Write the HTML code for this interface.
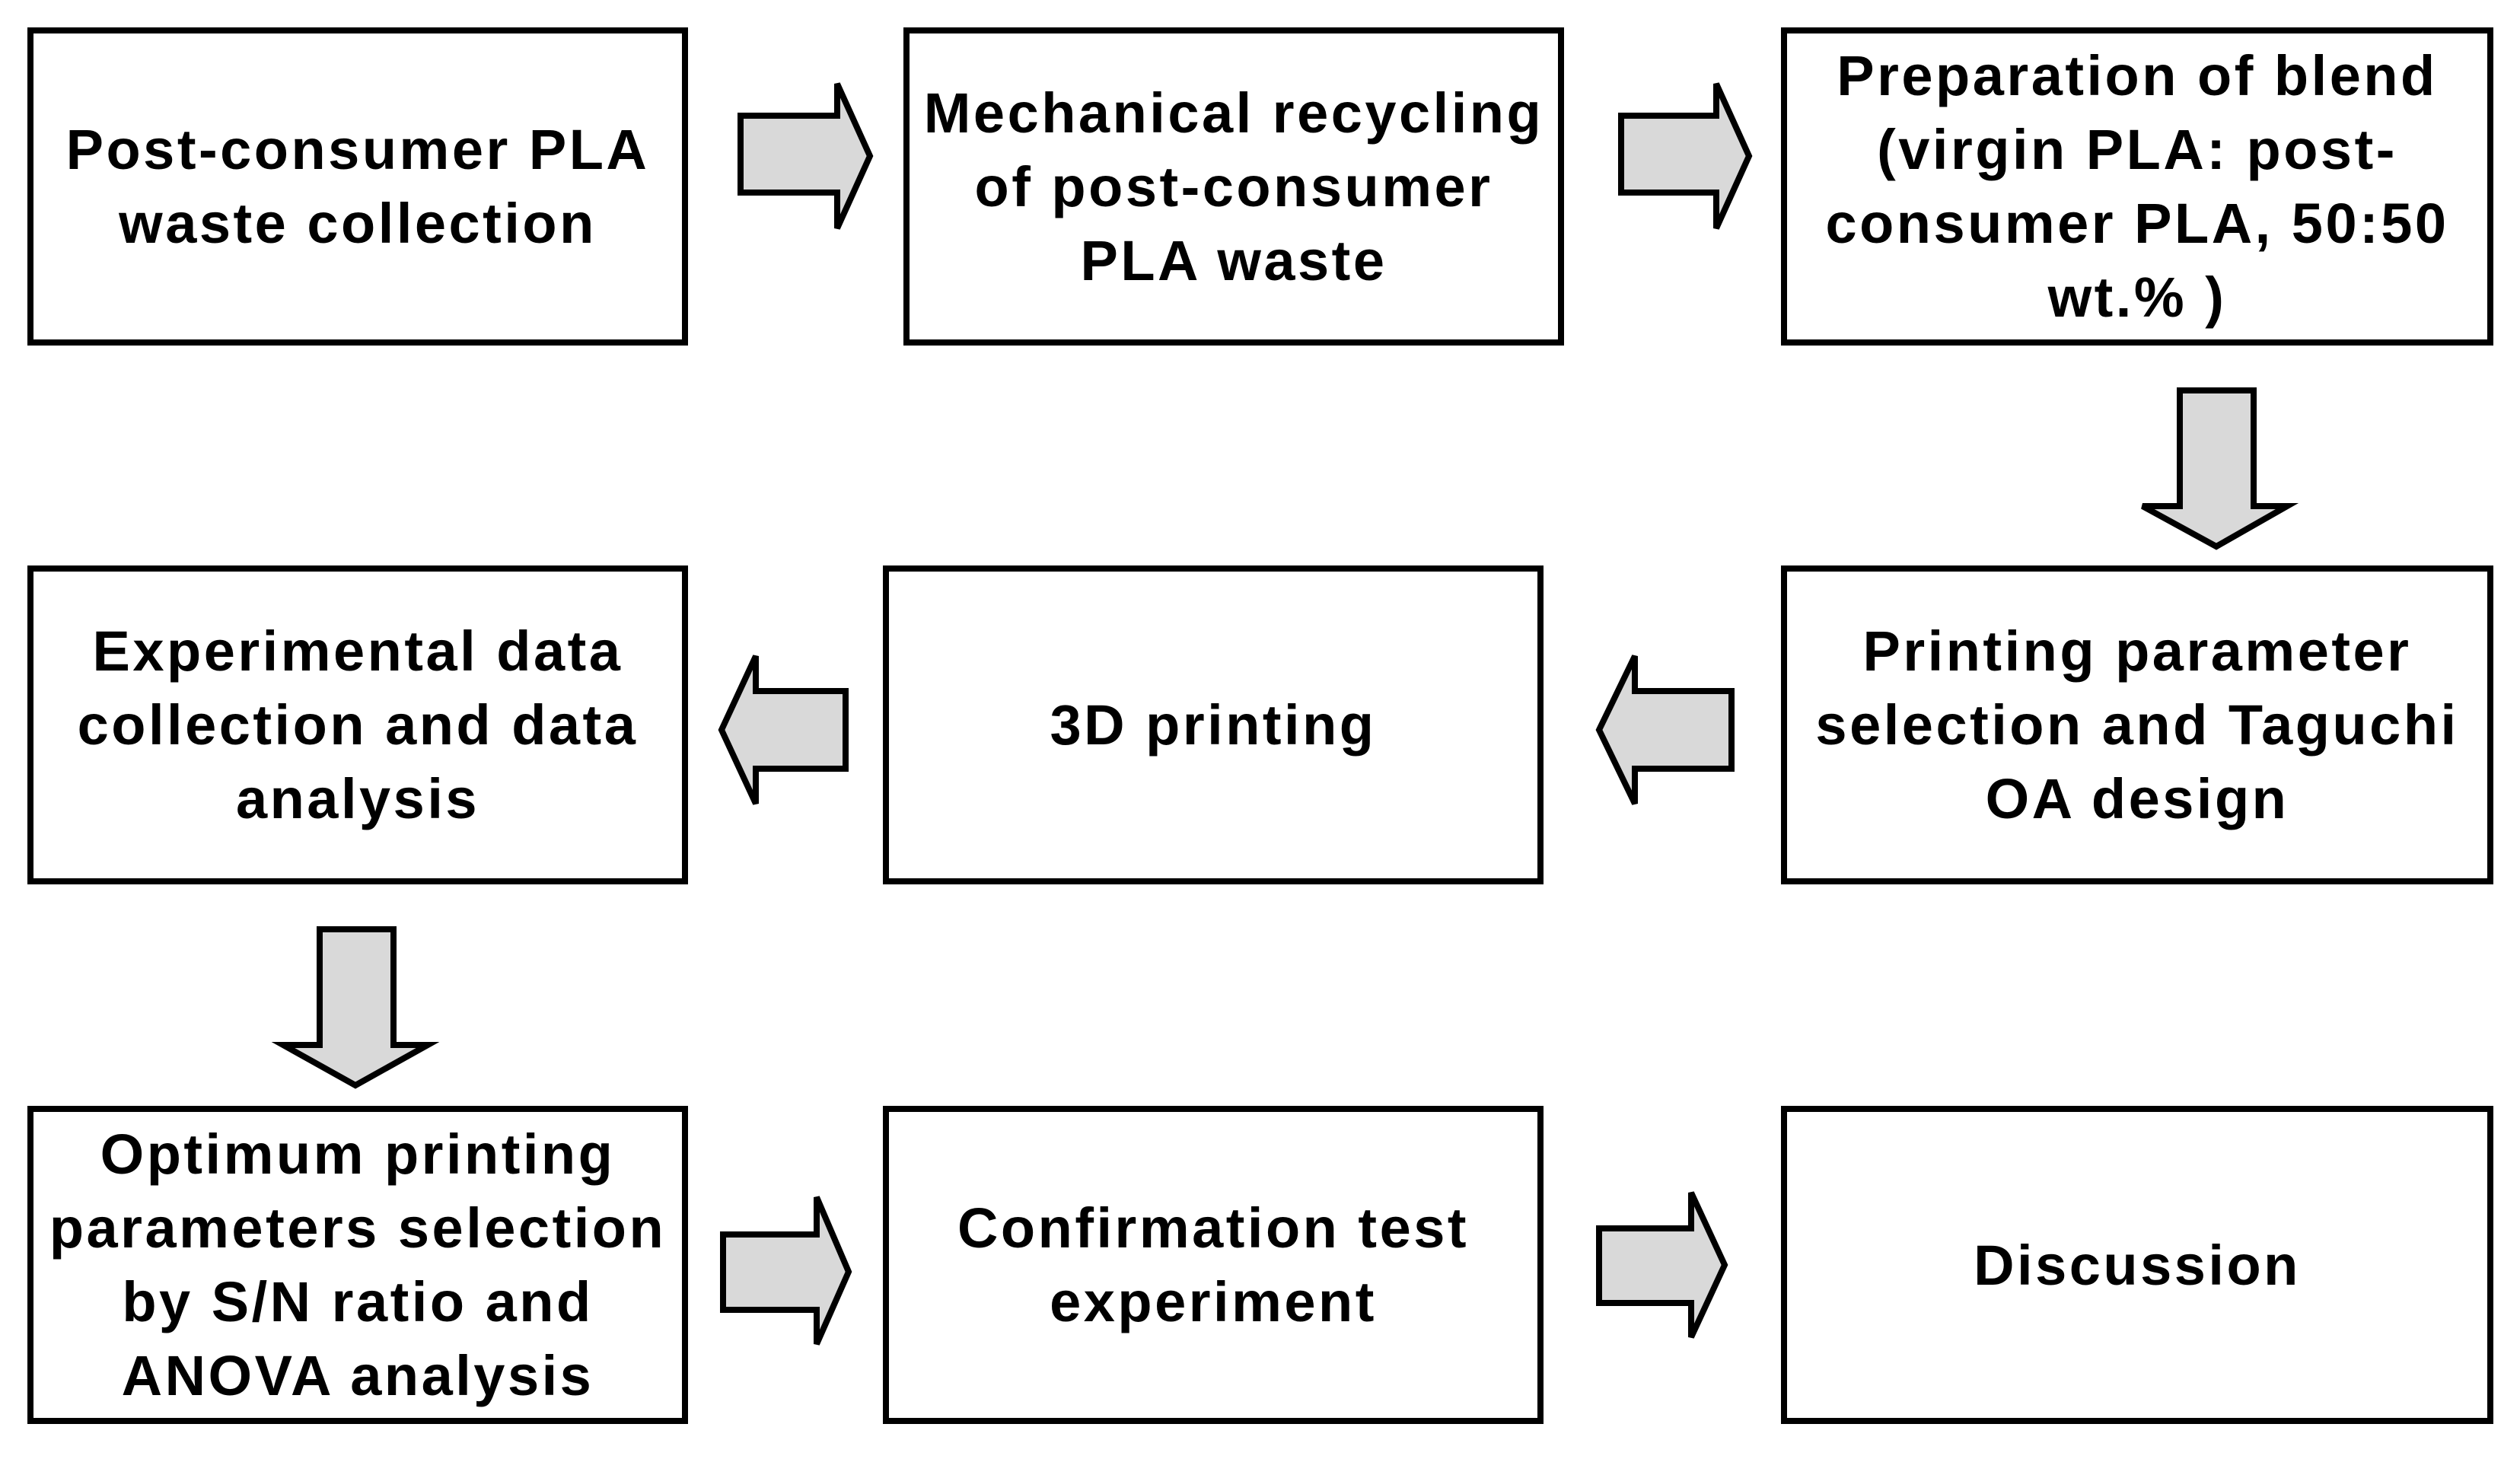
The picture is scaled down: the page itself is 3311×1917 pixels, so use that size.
<!DOCTYPE html>
<html><head><meta charset="utf-8"><style>
html,body{margin:0;padding:0;background:#fff;}
body{width:3311px;height:1917px;position:relative;overflow:hidden;font-family:"Liberation Sans",Arial,sans-serif;}
.b{position:absolute;box-sizing:border-box;border:8px solid #000;display:flex;align-items:center;justify-content:center;text-align:center;font-weight:bold;font-size:74px;line-height:97px;color:#000;letter-spacing:3.5px;white-space:nowrap;}
svg{position:absolute;left:0;top:0;}
</style></head><body>
<div class="b" style="left:36px;top:36px;width:868px;height:418px">Post-consumer PLA<br>waste collection</div>
<div class="b" style="left:1187px;top:36px;width:868px;height:418px">Mechanical recycling<br>of post-consumer<br>PLA waste</div>
<div class="b" style="left:2340px;top:36px;width:936px;height:418px">Preparation of blend<br>(virgin PLA: post-<br>consumer PLA, 50:50<br>wt.% )</div>
<div class="b" style="left:36px;top:743px;width:868px;height:419px">Experimental data<br>collection and data<br>analysis</div>
<div class="b" style="left:1160px;top:743px;width:868px;height:419px">3D printing</div>
<div class="b" style="left:2340px;top:743px;width:936px;height:419px">Printing parameter<br>selection and Taguchi<br>OA design</div>
<div class="b" style="left:36px;top:1453px;width:868px;height:418px">Optimum printing<br>parameters selection<br>by S/N ratio and<br>ANOVA analysis</div>
<div class="b" style="left:1160px;top:1453px;width:868px;height:418px">Confirmation test<br>experiment</div>
<div class="b" style="left:2340px;top:1453px;width:936px;height:418px">Discussion</div>
<svg width="3311" height="1917" viewBox="0 0 3311 1917">
<g fill="#d9d9d9" stroke="#000" stroke-width="8" stroke-linejoin="miter">
<polygon points="973,152 1100,152 1100,110 1143,205 1100,300 1100,253 973,253"/>
<polygon points="2130,152 2255,152 2255,110 2298,205 2255,300 2255,253 2130,253"/>
<polygon points="2864,513 2961,513 2961,665 3005,665 2912,718 2815,665 2864,665"/>
<polygon points="1111,908 993,908 993,862 948,959 993,1056 993,1010 1111,1010"/>
<polygon points="2275,908 2148,908 2148,862 2101,959 2148,1056 2148,1010 2275,1010"/>
<polygon points="420,1221 517,1221 517,1373 562,1373 467,1426 372,1373 420,1373"/>
<polygon points="950,1622 1073,1622 1073,1573 1115,1671 1073,1766 1073,1721 950,1721"/>
<polygon points="2101,1614 2222,1614 2222,1567 2266,1662 2222,1757 2222,1712 2101,1712"/>
</g>
</svg>
</body></html>
